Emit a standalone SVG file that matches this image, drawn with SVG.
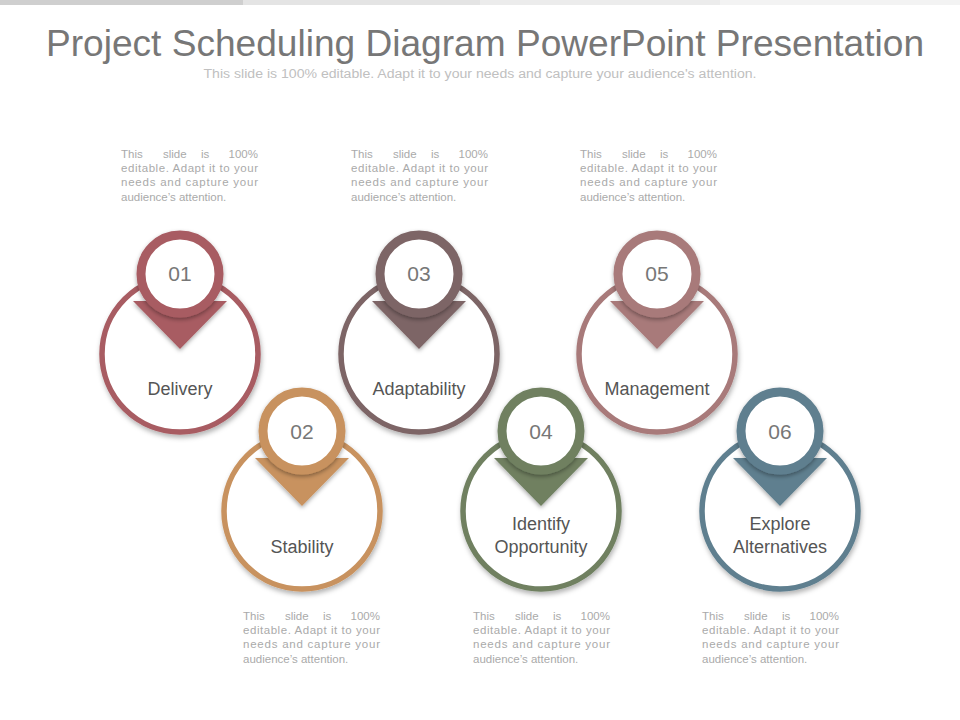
<svg xmlns="http://www.w3.org/2000/svg" width="960" height="720" viewBox="0 0 960 720">
<defs>
<filter id="sh" x="-20%" y="-20%" width="140%" height="150%">
<feDropShadow dx="1" dy="3" stdDeviation="2.5" flood-color="#000" flood-opacity="0.3"/>
</filter>
<filter id="ish" x="-20%" y="-20%" width="140%" height="140%">
<feDropShadow dx="0" dy="2" stdDeviation="2" flood-color="#000" flood-opacity="0.35"/>
</filter>
</defs>
<style>
.title{font-family:"Liberation Sans",Arial,sans-serif;font-size:36px;fill:#777;text-anchor:middle}
.sub{font-family:"Liberation Sans",Arial,sans-serif;font-size:12px;fill:#c0c0c0;text-anchor:middle}
.body{font-family:"Liberation Sans",Arial,sans-serif;font-size:11.5px;fill:#aaa}
.num{font-family:"Liberation Sans",Arial,sans-serif;font-size:21px;fill:#777;text-anchor:middle}
.lbl{font-family:"Liberation Sans",Arial,sans-serif;font-size:18px;fill:#555;text-anchor:middle}
.big{fill:#fff;stroke-width:5.5;filter:url(#sh)}
.small{fill:#fff;stroke-width:9;filter:url(#ish)}
.e{text-anchor:end}
</style>
<rect x="0" y="0" width="243" height="5" fill="#cfcfcf"/>
<rect x="243" y="0" width="237" height="5" fill="#e4e4e4"/>
<rect x="480" y="0" width="240" height="5" fill="#ececec"/>
<rect x="720" y="0" width="240" height="5" fill="#f3f3f3"/>
<text class="title" x="485" y="56" textLength="878" lengthAdjust="spacingAndGlyphs">Project Scheduling Diagram PowerPoint Presentation</text>
<text class="sub" x="480" y="78" textLength="553" lengthAdjust="spacingAndGlyphs">This slide is 100% editable. Adapt it to your needs and capture your audience's attention.</text>
<g id="connectors"></g>
<g id="node01">
<circle class="big" cx="180" cy="354" r="78" stroke="#A85C62"/>
<polygon points="133,301 227,301 180,349" fill="#A85C62" filter="url(#ish)"/>
<circle class="small" cx="180" cy="274" r="39" stroke="#A85C62"/>
<text class="num" x="180" y="281">01</text>
<text class="lbl" x="180" y="395">Delivery</text>
</g>
<g id="node02">
<circle class="big" cx="302" cy="511" r="78" stroke="#C8925E"/>
<polygon points="255,458 349,458 302,506" fill="#C8925E" filter="url(#ish)"/>
<circle class="small" cx="302" cy="431" r="39" stroke="#C8925E"/>
<text class="num" x="302" y="439">02</text>
<text class="lbl" x="302" y="553">Stability</text>
</g>
<g id="node03">
<circle class="big" cx="419" cy="354" r="78" stroke="#7D6566"/>
<polygon points="372,301 466,301 419,349" fill="#7D6566" filter="url(#ish)"/>
<circle class="small" cx="419" cy="274" r="39" stroke="#7D6566"/>
<text class="num" x="419" y="281">03</text>
<text class="lbl" x="419" y="395">Adaptability</text>
</g>
<g id="node04">
<circle class="big" cx="541" cy="511" r="78" stroke="#6F8061"/>
<polygon points="494,458 588,458 541,506" fill="#6F8061" filter="url(#ish)"/>
<circle class="small" cx="541" cy="431" r="39" stroke="#6F8061"/>
<text class="num" x="541" y="439">04</text>
<text class="lbl" x="541" y="530">Identify</text>
<text class="lbl" x="541" y="553">Opportunity</text>
</g>
<g id="node05">
<circle class="big" cx="657" cy="354" r="78" stroke="#A87A7A"/>
<polygon points="610,301 704,301 657,349" fill="#A87A7A" filter="url(#ish)"/>
<circle class="small" cx="657" cy="274" r="39" stroke="#A87A7A"/>
<text class="num" x="657" y="281">05</text>
<text class="lbl" x="657" y="395">Management</text>
</g>
<g id="node06">
<circle class="big" cx="780" cy="511" r="78" stroke="#5F7F8F"/>
<polygon points="733,458 827,458 780,506" fill="#5F7F8F" filter="url(#ish)"/>
<circle class="small" cx="780" cy="431" r="39" stroke="#5F7F8F"/>
<text class="num" x="780" y="439">06</text>
<text class="lbl" x="780" y="530">Explore</text>
<text class="lbl" x="780" y="553">Alternatives</text>
</g>
<g id="text1" class="body">
<text y="158"><tspan x="121">This</tspan><tspan x="163">slide</tspan><tspan x="201">is</tspan><tspan x="258" class="e">100%</tspan></text>
<text x="121" y="172" textLength="137" lengthAdjust="spacing">editable. Adapt it to your</text>
<text x="121" y="186" textLength="137" lengthAdjust="spacing">needs and capture your</text>
<text x="121" y="201">audience’s attention.</text>
</g>
<g id="text3" class="body">
<text y="158"><tspan x="351">This</tspan><tspan x="393">slide</tspan><tspan x="431">is</tspan><tspan x="488" class="e">100%</tspan></text>
<text x="351" y="172" textLength="137" lengthAdjust="spacing">editable. Adapt it to your</text>
<text x="351" y="186" textLength="137" lengthAdjust="spacing">needs and capture your</text>
<text x="351" y="201">audience’s attention.</text>
</g>
<g id="text5" class="body">
<text y="158"><tspan x="580">This</tspan><tspan x="622">slide</tspan><tspan x="660">is</tspan><tspan x="717" class="e">100%</tspan></text>
<text x="580" y="172" textLength="137" lengthAdjust="spacing">editable. Adapt it to your</text>
<text x="580" y="186" textLength="137" lengthAdjust="spacing">needs and capture your</text>
<text x="580" y="201">audience’s attention.</text>
</g>
<g id="text2" class="body">
<text y="620"><tspan x="243">This</tspan><tspan x="285">slide</tspan><tspan x="323">is</tspan><tspan x="380" class="e">100%</tspan></text>
<text x="243" y="634" textLength="137" lengthAdjust="spacing">editable. Adapt it to your</text>
<text x="243" y="648" textLength="137" lengthAdjust="spacing">needs and capture your</text>
<text x="243" y="663">audience’s attention.</text>
</g>
<g id="text4" class="body">
<text y="620"><tspan x="473">This</tspan><tspan x="515">slide</tspan><tspan x="553">is</tspan><tspan x="610" class="e">100%</tspan></text>
<text x="473" y="634" textLength="137" lengthAdjust="spacing">editable. Adapt it to your</text>
<text x="473" y="648" textLength="137" lengthAdjust="spacing">needs and capture your</text>
<text x="473" y="663">audience’s attention.</text>
</g>
<g id="text6" class="body">
<text y="620"><tspan x="702">This</tspan><tspan x="744">slide</tspan><tspan x="782">is</tspan><tspan x="839" class="e">100%</tspan></text>
<text x="702" y="634" textLength="137" lengthAdjust="spacing">editable. Adapt it to your</text>
<text x="702" y="648" textLength="137" lengthAdjust="spacing">needs and capture your</text>
<text x="702" y="663">audience’s attention.</text>
</g>
</svg>
